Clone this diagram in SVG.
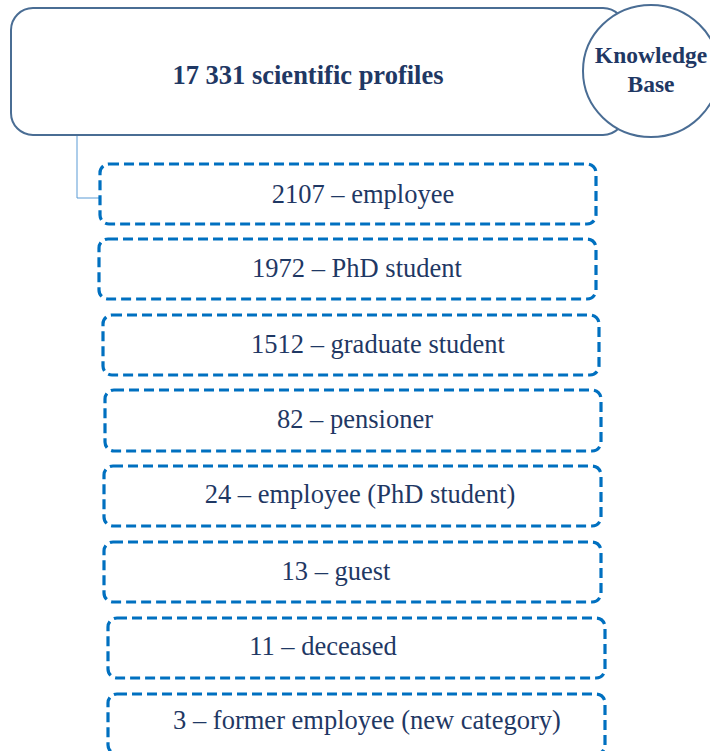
<svg xmlns="http://www.w3.org/2000/svg" width="710" height="751" viewBox="0 0 710 751">
<style>
.main{fill:#fff;stroke:#4a6d94;stroke-width:2}
.box{fill:#fff;stroke:#0070c0;stroke-width:3.2;stroke-dasharray:10 5}
.t{font-family:"Liberation Serif","Times New Roman",serif;fill:#1f3864;text-anchor:middle}
.r{font-size:26.5px}
.b{font-weight:bold}
.conn{fill:none;stroke:#5b9bd5;stroke-width:1}
</style>
<rect width="710" height="751" fill="#fff"/>
<g id="connectors">
<path class="conn" d="M77,135 V198 H100"/>
</g>
<g id="root">
<rect class="main" x="11" y="8" width="614" height="127" rx="22" ry="22"/>
<text class="t b" x="308" y="84" font-size="26.5">17 331 scientific profiles</text>
</g>
<g id="kb">
<ellipse class="main" cx="651" cy="71" rx="68" ry="66"/>
<text class="t b" x="651" y="63" font-size="23.5">Knowledge</text>
<text class="t b" x="651" y="92" font-size="23.5">Base</text>
</g>
<g id="n1"><rect class="box" x="100" y="164" width="496" height="60" rx="9"/><text class="t r" x="363" y="203">2107 – employee</text></g>
<g id="n2"><rect class="box" x="99" y="239" width="497" height="60" rx="9"/><text class="t r" x="357" y="277">1972 – PhD student</text></g>
<g id="n3"><rect class="box" x="103" y="315" width="496" height="60" rx="9"/><text class="t r" x="378" y="353">1512 – graduate student</text></g>
<g id="n4"><rect class="box" x="105" y="390" width="496" height="61" rx="9"/><text class="t r" x="355" y="428">82 – pensioner</text></g>
<g id="n5"><rect class="box" x="104" y="466" width="497" height="60" rx="9"/><text class="t r" x="360" y="503">24 – employee (PhD student)</text></g>
<g id="n6"><rect class="box" x="104" y="542" width="497" height="60" rx="9"/><text class="t r" x="336" y="580">13 – guest</text></g>
<g id="n7"><rect class="box" x="108" y="618" width="497" height="60" rx="9"/><text class="t r" x="323" y="655">11 – deceased</text></g>
<g id="n8"><rect class="box" x="108" y="694" width="497" height="60" rx="9"/><text class="t r" x="367" y="729">3 – former employee (new category)</text></g>
</svg>
